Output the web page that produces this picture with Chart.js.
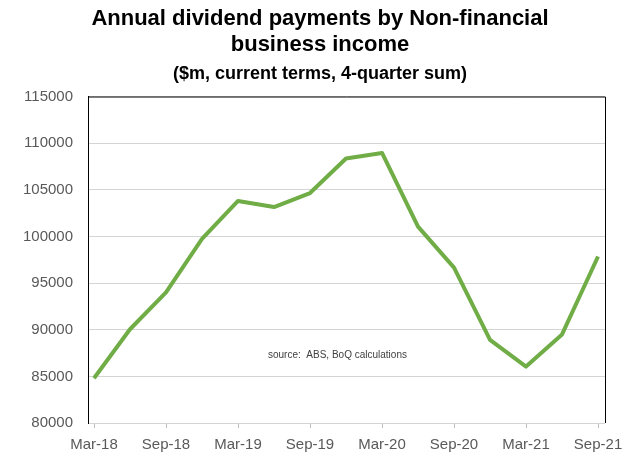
<!DOCTYPE html>
<html lang="en">
<head>
    <meta charset="UTF-8">
    <title>Annual dividend payments by Non-financial business income</title>
    <style>
        html, body { margin: 0; padding: 0; background: #fff; }
        #wrap { width: 640px; height: 456px; }
    </style>
</head>
<body>
    <div id="wrap"><canvas id="divChart" width="640" height="456"></canvas></div>

    <script src="https://cdn.jsdelivr.net/npm/chart.js"></script>
    <script>
        // quarters Mar-18 .. Sep-21
        const quarters = ['Mar-18', 'Jun-18', 'Sep-18', 'Dec-18', 'Mar-19', 'Jun-19', 'Sep-19', 'Dec-19',
                          'Mar-20', 'Jun-20', 'Sep-20', 'Dec-20', 'Mar-21', 'Jun-21', 'Sep-21'];
        const dividends = [84800, 90050, 94000, 99750, 103800, 103150, 104650, 108350,
                           108950, 101050, 96650, 88900, 86050, 89500, 97850];
        const xTickLabels = ['Mar-18', 'Sep-18', 'Mar-19', 'Sep-19', 'Mar-20', 'Sep-20', 'Mar-21', 'Sep-21'];
        const yTicks = [80000, 85000, 90000, 95000, 100000, 105000, 110000, 115000];

        const narrow = "'Liberation Sans Narrow', 'Arial Narrow', 'Liberation Sans', sans-serif";
        const plain = "'Liberation Sans', Arial, sans-serif";

        // x is months since Mar-18, one point every quarter
        const points = quarters.map((q, i) => ({ x: i * 3, y: dividends[i] }));

        // black frame on top/right like the excel plot area, plus the source note
        const frameAndNote = {
            id: 'frameAndNote',
            afterDraw(chart) {
                const { ctx, chartArea: a } = chart;
                ctx.save();
                ctx.strokeStyle = '#000';
                ctx.lineWidth = 1;
                ctx.beginPath();
                ctx.moveTo(a.left, a.top + 0.5);
                ctx.lineTo(a.right + 0.5, a.top + 0.5);
                ctx.lineTo(a.right + 0.5, a.bottom);
                ctx.stroke();
                ctx.fillStyle = '#404040';
                ctx.font = '10px ' + plain;
                ctx.textBaseline = 'middle';
                ctx.fillText('source:  ABS, BoQ calculations', a.left + 180, 355);
                ctx.restore();
            }
        };

        new Chart(document.getElementById('divChart'), {
            type: 'line',
            data: {
                datasets: [{
                    label: 'Dividends',
                    data: points,
                    borderColor: '#70AD47',
                    borderWidth: 4,
                    borderJoinStyle: 'round',
                    pointRadius: 0,
                    tension: 0,
                    fill: false
                }]
            },
            options: {
                responsive: false,
                animation: false,
                layout: { padding: 0 },
                plugins: {
                    legend: { display: false },
                    tooltip: { enabled: false },
                    title: {
                        display: true,
                        text: ['Annual dividend payments by Non-financial', 'business income'],
                        color: '#000',
                        font: { family: narrow, size: 22, weight: 'bold', lineHeight: 1.18 },
                        padding: { top: 6, bottom: 0 }
                    },
                    subtitle: {
                        display: true,
                        text: '($m, current terms, 4-quarter sum)',
                        color: '#000',
                        font: { family: narrow, size: 18, weight: 'bold', lineHeight: 1.2 },
                        padding: { top: 5, bottom: 12 }
                    }
                },
                scales: {
                    x: {
                        type: 'linear',
                        min: -0.5,
                        max: 42.58,
                        afterBuildTicks: s => { s.ticks = xTickLabels.map((t, i) => ({ value: i * 6 })); },
                        afterFit: s => { s.height = 33; },
                        border: { display: false },
                        grid: { drawOnChartArea: false, tickLength: 5, color: '#bfbfbf' },
                        ticks: {
                            autoSkip: false,
                            maxRotation: 0,
                            padding: 8,
                            color: '#595959',
                            font: { family: plain, size: 15 },
                            callback: v => quarters[v / 3]
                        }
                    },
                    y: {
                        min: 80000,
                        max: 115000,
                        afterBuildTicks: s => { s.ticks = yTicks.map(v => ({ value: v })); },
                        afterFit: s => { s.width = 88; },
                        border: { display: true, color: '#000', width: 1 },
                        grid: { drawTicks: false, color: '#d4d4d4', borderDash: [3, 1] },
                        ticks: {
                            padding: 15,
                            color: '#595959',
                            font: { family: plain, size: 15 },
                            callback: v => String(v)
                        }
                    },
                    // empty right margin so the title stays centred on the whole canvas
                    yRight: {
                        position: 'right',
                        min: 80000,
                        max: 115000,
                        afterFit: s => { s.width = 35; },
                        border: { display: false },
                        grid: { display: false },
                        ticks: { display: false }
                    }
                }
            },
            plugins: [frameAndNote]
        });
    </script>
</body>
</html>
